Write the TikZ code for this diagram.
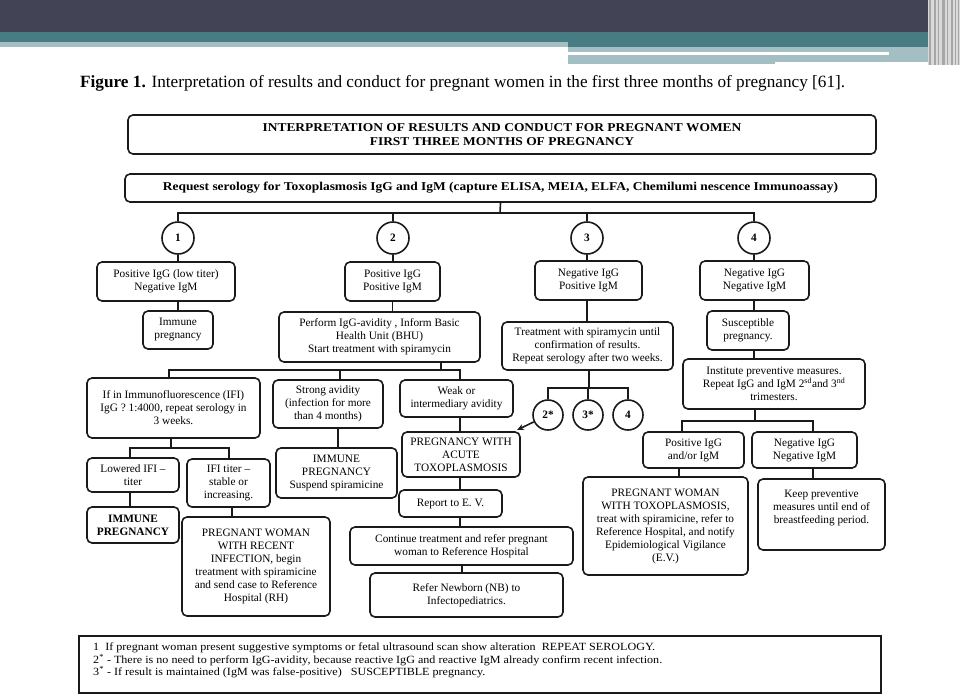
\documentclass[tikz,border=0pt]{standalone}
\usepackage{fontspec}
\setmainfont{Liberation Serif}
\usetikzlibrary{arrows.meta}
\definecolor{bandDark}{HTML}{434356}
\definecolor{bandTeal}{HTML}{467C82}
\definecolor{bandLight}{HTML}{A3BFC3}
\definecolor{inkC}{HTML}{1A1A1A}
\tikzset{
  box/.style={draw=inkC, line width=1.6pt, rounded corners=5pt, align=center, inner sep=2pt,
    font=\fontsize{11.3}{13}\selectfont},
  headfont/.style={font=\bfseries\fontsize{12}{14}\selectfont\addfontfeature{FakeStretch=1.12}},
  sqbox/.style={draw=inkC, line width=1.2pt, align=left, inner sep=0pt},
  num/.style={draw=inkC, line width=1.6pt, circle, inner sep=0pt, font=\bfseries\fontsize{11.3}{13}\selectfont},
  conn/.style={draw=inkC, line width=1.6pt},
}
\newcommand{\bx}[8]{% name, x1,y1,x2,y2, extra, text
  \node[box, minimum width=#4-#2, minimum height=#5-#3, #6] (#1) at ({(#2+#4)/2},{(#3+#5)/2}) {#7};}
\begin{document}
\begin{tikzpicture}[x=1pt,y=-1pt]
\useasboundingbox (0,0) rectangle (960,696);
% banner
\fill[bandDark] (0,0) rectangle (960,32);
\fill[bandTeal] (0,32) rectangle (935,42);
\fill[bandLight] (0,42) rectangle (568,47);
\fill[bandTeal] (568,42) rectangle (935,47);
\fill[bandLight] (568,47) rectangle (935,52);
\fill[bandLight] (889,52) rectangle (935,55);
\fill[bandLight] (568,55) rectangle (775,64);
\fill[bandLight] (775,55) rectangle (935,62);
\fill[gray!30] (928,0) rectangle (960,65);
\foreach \xx/\ww in {929/1.5,934/2,938/1,942/2.5,947/1,951/1.5,955/1,958/1}{
  \fill[gray!70] (\xx,0) rectangle ++(\ww,65);}
% caption
\node[anchor=west, inner sep=0pt, font=\fontsize{17.2}{20}\selectfont] (cap) at (80,83)
  {\textbf{Figure 1.} Interpretation of results and conduct for pregnant women in the first three months of pregnancy [61].};
% boxes
\bx{title}{128}{115}{876}{154}{headfont}{INTERPRETATION OF RESULTS AND CONDUCT FOR PREGNANT WOMEN\\FIRST THREE MONTHS OF PREGNANCY}{}
\bx{req}{125}{174}{876}{202}{headfont}{Request serology for Toxoplasmosis IgG and IgM (capture ELISA, MEIA, ELFA, Chemilumi nescence Immunoassay)}{}
\node[num, minimum size=32pt] (c1) at (178,238) {1};
\node[num, minimum size=32pt] (c2) at (393,238) {2};
\node[num, minimum size=32pt] (c3) at (587,238) {3};
\node[num, minimum size=32pt] (c4) at (754,238) {4};
\bx{b1}{97}{262}{235}{301}{}{Positive IgG (low titer)\\Negative IgM}{}
\bx{imm1}{143}{311}{213}{349}{}{Immune\\pregnancy}{}
\bx{b2}{345}{262}{440}{301}{}{Positive IgG\\Positive IgM}{}
\bx{perf}{279}{312}{480}{362}{}{Perform IgG-avidity , Inform Basic\\Health Unit (BHU)\\Start treatment with spiramycin}{}
\bx{b3}{535}{261}{642}{300}{}{Negative IgG\\Positive IgM}{}
\bx{treat}{502}{322}{673}{370}{}{Treatment with spiramycin until\\confirmation of results.\\Repeat serology after two weeks.}{}
\bx{b4}{700}{261}{809}{300}{}{Negative IgG\\Negative IgM}{}
\bx{susc}{707}{311}{789}{350}{}{Susceptible\\pregnancy.}{}
\bx{inst}{683}{359}{865}{409}{}{Institute preventive measures.\\Repeat IgG and IgM 2\textsuperscript{sd}and 3\textsuperscript{nd}\\trimesters.}{}
\bx{ifi}{87}{378}{260}{438}{}{If in Immunofluorescence (IFI)\\IgG ? 1:4000, repeat serology in\\3 weeks.}{}
\bx{strong}{273}{380}{383}{428}{}{Strong avidity\\(infection for more\\than 4 months)}{}
\bx{weak}{400}{380}{513}{417}{}{Weak or\\intermediary avidity}{}
\bx{acute}{402}{432}{520}{477}{}{PREGNANCY WITH\\ACUTE\\TOXOPLASMOSIS}{}
\node[num, minimum size=30pt] (s2) at (548,415) {2*};
\node[num, minimum size=30pt] (s3) at (588,415) {3*};
\node[num, minimum size=30pt] (s4) at (628,415) {4};
\bx{report}{399}{490}{502}{517}{}{Report to E. V.}{}
\bx{cont}{350}{527}{573}{565}{}{Continue treatment and refer pregnant\\woman to Reference Hospital}{}
\bx{refer}{370}{573}{563}{617}{}{Refer Newborn (NB) to\\Infectopediatrics.}{}
\bx{immsus}{276}{448}{397}{498}{}{IMMUNE\\PREGNANCY\\Suspend spiramicine}{}
\bx{lowered}{87}{458}{179}{492}{}{Lowered IFI --\\titer}{}
\bx{stable}{187}{459}{270}{507}{}{IFI titer --\\stable or\\increasing.}{}
\bx{imm2}{87}{507}{179}{543}{font=\bfseries\fontsize{11.3}{13}\selectfont}{IMMUNE\\PREGNANCY}{}
\bx{recent}{182}{517}{330}{616}{}{PREGNANT WOMAN\\WITH RECENT\\INFECTION, begin\\treatment with spiramicine\\and send case to Reference\\Hospital (RH)}{}
\bx{posigg}{643}{432}{744}{468}{}{Positive IgG\\and/or IgM}{}
\bx{negigg}{752}{432}{857}{468}{}{Negative IgG\\Negative IgM}{}
\bx{toxo}{583}{477}{748}{575}{}{PREGNANT WOMAN\\WITH TOXOPLASMOSIS,\\treat with spiramicine, refer to\\Reference Hospital, and notify\\Epidemiological Vigilance\\(E.V.)}{}
\bx{keep}{758}{479}{885}{550}{}{Keep preventive\\measures until end of\\breastfeeding period.\\[2pt]}{}
% footnote
\node[sqbox, minimum width=802pt, minimum height=57pt] (foot) at (480,664.5) {};
\node[anchor=north west, inner sep=0pt, align=left, font=\fontsize{11}{12.5}\selectfont\addfontfeature{FakeStretch=1.1}] (ftext) at (93,643)
 {1\ \ If pregnant woman present suggestive symptoms or fetal ultrasound scan show alteration\ \ REPEAT SEROLOGY.\\
  2\textsuperscript{*} - There is no need to perform IgG-avidity, because reactive IgG and reactive IgM already confirm recent infection.\\
  3\textsuperscript{*} - If result is maintained (IgM was false-positive)\ \ \ SUSCEPTIBLE pregnancy.};
% connectors
\coordinate (topbar) at (500,213);
\draw[conn] (req.south) -- (topbar);
\draw[conn] (c1.north) |- (topbar) -| (c4.north);
\draw[conn] (c2.north) -- (c2.north |- topbar);
\draw[conn] (c3.north) -- (c3.north |- topbar);
\draw[conn] (c1.south) -- (c1.south |- b1.north);
\draw[conn] (c2.south) -- (c2.south |- b2.north);
\draw[conn] (c3.south) -- (c3.south |- b3.north);
\draw[conn] (c4.south) -- (c4.south |- b4.north);
\draw[conn] (178,301) -- (imm1.north);
\draw[conn] (392.5,301) -- (392.5,312);
\draw[conn] (587,300) -- (587,322);
\draw[conn] (754,300) -- (754,311);
\draw[conn] (754,350) -- (754,359);
% branch under perf
\coordinate (pb) at (441,370);
\draw[conn] (441,362) -- (pb);
\draw[conn] (169,378) |- (pb) -| (460,380);
\draw[conn] (340,370) -- (340,380);
\draw[conn] (460,417) -- (460,432);
\draw[conn] (338,428) -- (338,448);
\draw[conn] (460,477) -- (460,490);
\draw[conn] (460,517) -- (460,527);
\draw[conn] (462,565) -- (462,573);
\draw[conn, -{Stealth[length=7pt,width=6pt]}] (s2) -- (517,430);
% IFI split
\coordinate (ib) at (171,448);
\draw[conn] (171,438) -- (ib);
\draw[conn] (130,458) |- (ib) -| (229,459);
\draw[conn] (130,492) -- (130,507);
\draw[conn] (232,507) -- (232,517);
% treat split
\coordinate (tb) at (589,388);
\draw[conn] (589,370) -- (tb);
\draw[conn] (s2.north) |- (tb) -| (s4.north);
\draw[conn] (s3.north) -- (s3.north |- tb);
% inst split
\coordinate (nb) at (755,421);
\draw[conn] (755,409) -- (nb);
\draw[conn] (682,432) |- (nb) -| (813,432);
\draw[conn] (679,468) -- (679,477);
\draw[conn] (813,468) -- (813,479);
\end{tikzpicture}
\end{document}
